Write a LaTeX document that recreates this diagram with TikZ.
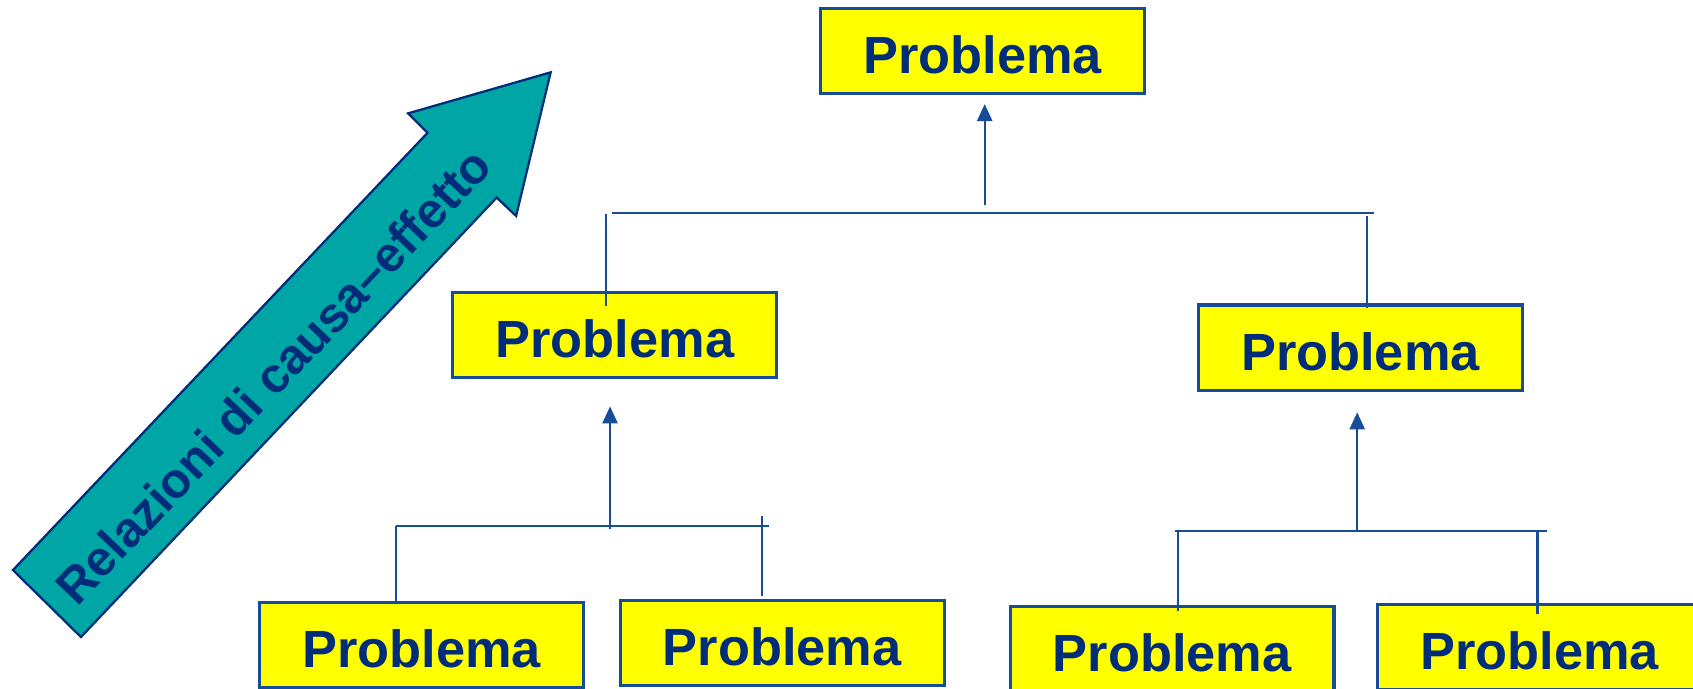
\documentclass[tikz,border=0pt]{standalone}
\usepackage{fontspec}
\setmainfont{Liberation Sans}
\usetikzlibrary{arrows.meta}
\definecolor{boxyellow}{RGB}{255,255,0}
\definecolor{linkblue}{RGB}{23,76,152}
\definecolor{textnavy}{RGB}{0,45,122}
\definecolor{arrowteal}{RGB}{0,166,166}

\begin{document}
\begin{tikzpicture}
      [
        x = 0.1mm, y = -0.1mm,
        problem/.style = {draw=linkblue, line width=0.8pt, fill=boxyellow,
            minimum width=30mm, minimum height=7.9mm, inner sep=0pt,
            text height=11.8pt, text depth=0pt,
            text=textnavy, font=\fontsize{13.8pt}{16pt}\selectfont\bfseries},
        link/.style = {draw=linkblue, line width=0.6pt},
        up/.style = {link, -{Triangle[width=4pt,length=4.5pt]}}
      ]

      \useasboundingbox (0,0) rectangle (1568,638);
      \clip (0,0) rectangle (1568,638);

      % big arrow on the left
      \draw[draw=textnavy, fill=arrowteal, line width=0.6pt]
        (12,528) -- (396,123) -- (378,105) -- (510,67) -- (478,200)
        -- (460,183) -- (75,590) -- cycle;
      \node[rotate=46.5, inner sep=0pt, text=textnavy,
            font=\fontsize{13pt}{15pt}\selectfont\bfseries]
        (cause) at (253,348) {Relazioni di causa--effetto};

      % boxes
      \node[problem] (root) at (910,47.5) {Problema};
      \node[problem] (a) at (569.5,310.5) {Problema};
      \node[problem] (b) at (1260,322) {Problema};
      \node[problem] (a1) at (390.5,597.5) {Problema};
      \node[problem] (a2) at (724.5,595.5) {Problema};
      \node[problem] (b1) at (1085.5,601.5) {Problema};
      \node[problem] (b2) at (1426,599.5) {Problema};

      % first level
      \coordinate (j0) at (912,190);
      \coordinate (h0w) at (567,197);
      \coordinate (h0e) at (1273,197);
      \coordinate (d0a) at (561,198);
      \coordinate (d0b) at (1266,200);
      \draw[up, shorten >=0.8mm] (j0) -- (j0 |- root.south);
      \draw[link] (h0w) -- (h0e);
      \draw[link, shorten >=-1.4mm] (d0a) -- (d0a |- a.north);
      \draw[link, shorten >=-0.4mm] (d0b) -- (d0b |- b.north);

      % second level, left
      \coordinate (ja) at (565,490);
      \coordinate (haw) at (367,487);
      \coordinate (hae) at (712,487);
      \coordinate (da2) at (706,478);
      \draw[up, shorten >=2.5mm] (ja) -- (ja |- a.south);
      \draw[link] (haw) -- (hae);
      \draw[link] (haw) -- (haw |- a1.north);
      \draw[link, shorten >=0.3mm] (da2) -- (da2 |- a2.north);

      % second level, right
      \coordinate (jb) at (1257,493);
      \coordinate (hbw) at (1088,492);
      \coordinate (hbe) at (1433,492);
      \coordinate (db1) at (1091,493);
      \coordinate (db2) at (1424,493);
      \draw[up, shorten >=1.9mm] (jb) -- (jb |- b.south);
      \draw[link] (hbw) -- (hbe);
      \draw[link, shorten >=-0.5mm] (db1) -- (db1 |- b1.north);
      \draw[link, shorten >=-1mm] (db2) -- (db2 |- b2.north);

\end{tikzpicture}
\end{document}
